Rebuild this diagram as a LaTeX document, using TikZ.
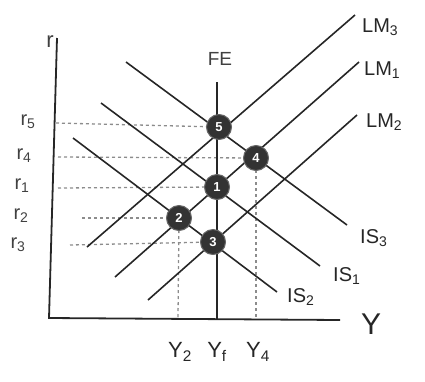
\documentclass[tikz,border=0pt]{standalone}
\usepackage{fontspec}
\setmainfont{Liberation Sans}
\begin{document}
\begin{tikzpicture}[x=1pt,y=-1pt,
  curve/.style={line width=1.6pt,draw=black!85},
  axis/.style={line width=1.8pt,draw=black!85},
  guide/.style={line width=1.3pt,draw=black!45,dash pattern=on 3pt off 3pt},
  eq/.style={circle,fill=black!80,draw=black!60,line width=1pt,minimum size=25pt,inner sep=0pt,text=white,font=\bfseries\fontsize{13}{13}\selectfont},
  lbl/.style={font=\fontsize{20}{20}\selectfont,inner sep=0pt,text=black!85},
  rl/.style={font=\fontsize{20}{20}\selectfont,inner sep=0pt,text=black!75}]
\useasboundingbox (0,0) rectangle (425,381);
% axes
\coordinate (top) at (57,38);
\coordinate (orig) at (49,318);
\coordinate (xend) at (340,320);
\draw[axis] (top) -- (orig) -- (xend);
\node[rl,font=\fontsize{22}{22}\selectfont] (rlab) at (50,42) {r};
\node[lbl,font=\fontsize{30}{30}\selectfont] (ylab) at (371,324) {Y};
% equilibrium positions
\coordinate (p5) at (219,127);
\coordinate (p4) at (256,158);
\coordinate (p1) at (217,187);
\coordinate (p2) at (179,218);
\coordinate (p3) at (213,242);
% guides
\coordinate (a5) at (56,123);
\coordinate (a4) at (58,157);
\coordinate (a1) at (58,188);
\coordinate (a2) at (82,218);
\coordinate (a3) at (70,245);
\draw[guide] (a5) -- (p5);
\draw[guide] (a4) -- (p4);
\draw[guide] (a1) -- (p1);
\draw[guide] (a2) -- (p2);
\draw[guide] (a3) -- (p3);
\coordinate (b2) at (178,318);
\coordinate (b4) at (256,319);
\draw[guide] (p2) -- (b2);
\draw[guide] (p4) -- (b4);
% FE
\coordinate (fetop) at (217,82);
\coordinate (febot) at (217,319);
\draw[curve] (fetop) -- (febot);
\node[lbl,font=\fontsize{19}{19}\selectfont,text=black!75] (fe) at (220,59) {FE};
% IS curves
\coordinate (is3a) at (126,62); \coordinate (is3b) at (347,225);
\coordinate (is1a) at (101,103); \coordinate (is1b) at (320,266);
\coordinate (is2a) at (73,138); \coordinate (is2b) at (277,292);
\draw[curve] (is3a) -- (is3b);
\draw[curve] (is1a) -- (is1b);
\draw[curve] (is2a) -- (is2b);
% LM curves
\coordinate (lm3a) at (87,247); \coordinate (lm3b) at (355,15);
\coordinate (lm1a) at (115,277); \coordinate (lm1b) at (359,62);
\coordinate (lm2a) at (148,300); \coordinate (lm2b) at (357,115);
\draw[curve] (lm3a) -- (lm3b);
\draw[curve] (lm1a) -- (lm1b);
\draw[curve] (lm2a) -- (lm2b);
% labels
\node[lbl,anchor=west] (l3) at (362,27) {LM\textsubscript{3}};
\node[lbl,anchor=west] (l1) at (364,70) {LM\textsubscript{1}};
\node[lbl,anchor=west] (l2) at (366,122) {LM\textsubscript{2}};
\node[lbl,anchor=west] (i3) at (360,238) {IS\textsubscript{3}};
\node[lbl,anchor=west] (i1) at (333,276) {IS\textsubscript{1}};
\node[lbl,anchor=west] (i2) at (287,297) {IS\textsubscript{2}};
\node[rl] (r5) at (28,122) {r\textsubscript{5}};
\node[rl] (r4) at (24,156) {r\textsubscript{4}};
\node[rl] (r1) at (22,186) {r\textsubscript{1}};
\node[rl] (r2) at (21,216) {r\textsubscript{2}};
\node[rl] (r3) at (18,245) {r\textsubscript{3}};
\node[lbl,font=\fontsize{22}{22}\selectfont] (y2) at (180,352) {Y\textsubscript{2}};
\node[lbl,font=\fontsize{22}{22}\selectfont] (yf) at (217,352) {Y\textsubscript{f}};
\node[lbl,font=\fontsize{22}{22}\selectfont] (y4) at (258,352) {Y\textsubscript{4}};
% equilibrium circles
\node[eq] (e5) at (p5) {5};
\node[eq] (e4) at (p4) {4};
\node[eq] (e1) at (p1) {1};
\node[eq] (e2) at (p2) {2};
\node[eq] (e3) at (p3) {3};
\end{tikzpicture}
\end{document}
